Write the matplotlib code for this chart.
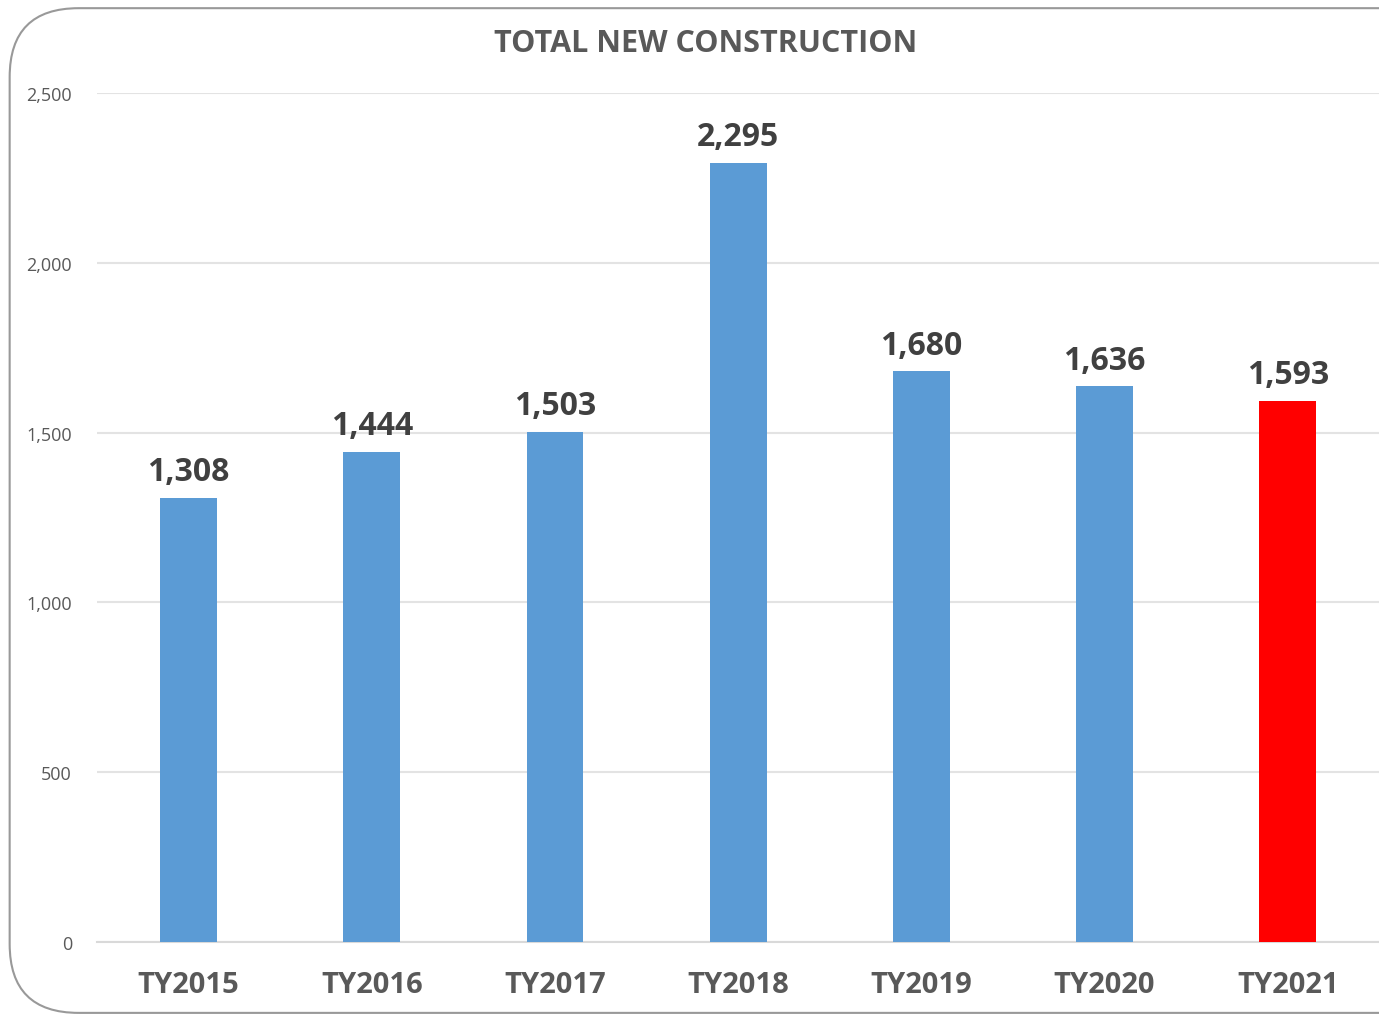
import matplotlib.pyplot as plt
from matplotlib.patches import FancyBboxPatch

years = ["TY2015", "TY2016", "TY2017", "TY2018", "TY2019", "TY2020", "TY2021"]
values = [1308, 1444, 1503, 2295, 1680, 1636, 1593]
colors = ["#5B9BD5"] * 6 + ["#FF0000"]
yticks = [0, 500, 1000, 1500, 2000, 2500]

plt.rcParams['font.family'] = ['Open Sans', 'DejaVu Sans']

fig = plt.figure(figsize=(13.79, 10.20), dpi=100)

# rounded frame around the chart
frame = FancyBboxPatch((0.007, 0.006), 1.2, 0.985,
                       boxstyle="round,pad=0,rounding_size=0.05",
                       transform=fig.transFigure, facecolor="none",
                       edgecolor="#999999", linewidth=1.5,
                       mutation_aspect=1379 / 1020, zorder=-1)
fig.patches.append(frame)

ax = fig.add_axes([0.0703, 0.0755, 0.93, 0.8323])
ax.set_facecolor("none")

x = range(len(years))
bars = ax.bar(x, values, width=0.31, color=colors, zorder=3)

for xi, v in zip(x, values):
    ax.annotate(f"{v:,}", (xi, v), xytext=(0, 7), textcoords="offset points",
                ha="center", va="bottom", fontsize=23, fontweight="bold",
                color="#404040")

ax.set_xlim(-0.5, 6.5)
ax.set_ylim(0, 2500)
ax.set_yticks(yticks)
ax.set_yticklabels([f"{t:,}" for t in yticks], fontsize=13, color="#595959")
ax.set_xticks(list(x))
ax.set_xticklabels(years, fontsize=21, fontweight="bold", color="#595959")
ax.tick_params(axis="both", length=0)
ax.tick_params(axis="y", pad=18)
ax.tick_params(axis="x", pad=20)
ax.grid(axis="y", color="#E3E3E3", linewidth=1.5, zorder=0)
for s in ["top", "right", "left"]:
    ax.spines[s].set_visible(False)
ax.spines["bottom"].set_color("#D9D9D9")
ax.spines["bottom"].set_linewidth(1.5)

fig.text(0.512, 0.957, "TOTAL NEW CONSTRUCTION", ha="center", va="center",
         fontsize=22, fontweight="bold", color="#595959")

fig.savefig("out.png", dpi=100)
